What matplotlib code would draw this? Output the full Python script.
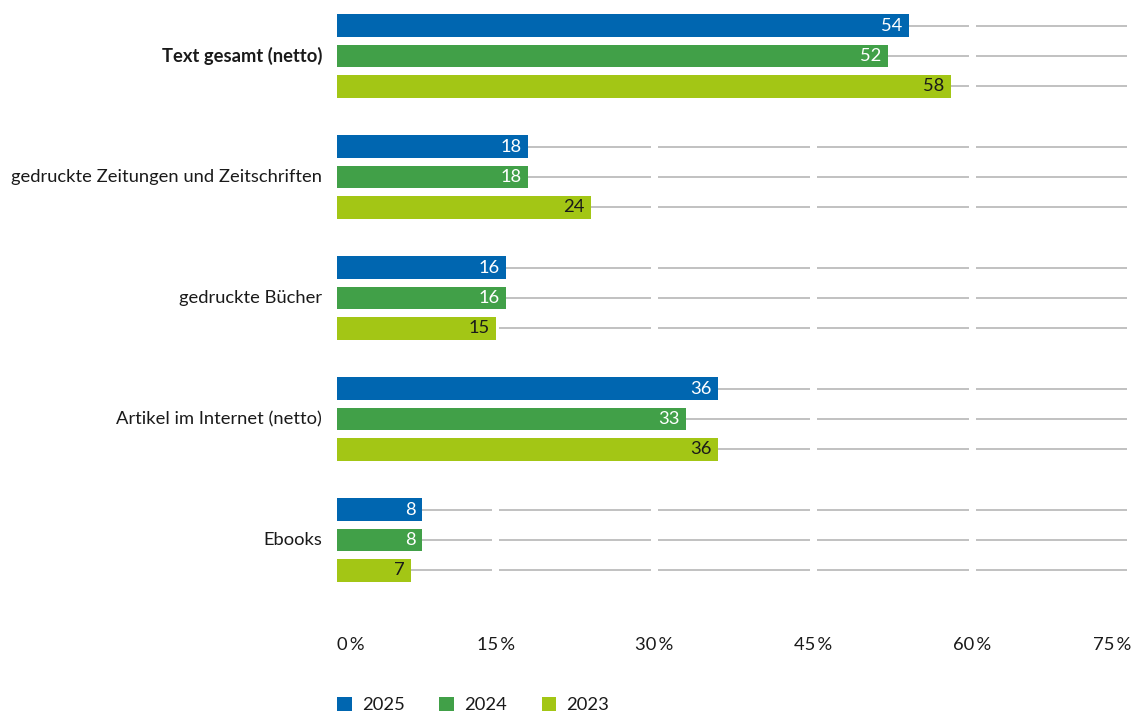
import matplotlib.pyplot as plt
from matplotlib.patches import Patch
import numpy as np

plt.rcParams['font.family'] = ['Lato', 'DejaVu Sans']

categories = ["Text gesamt (netto)", "gedruckte Zeitungen und Zeitschriften",
              "gedruckte Bücher", "Artikel im Internet (netto)", "Ebooks"]
years = ["2025", "2024", "2023"]
values_2025 = [54, 18, 16, 36, 8]
values_2024 = [52, 18, 16, 33, 8]
values_2023 = [58, 24, 15, 36, 7]
xticks = [0, 15, 30, 45, 60, 75]
xtick_labels = ["0\u2009%", "15\u2009%", "30\u2009%", "45\u2009%", "60\u2009%", "75\u2009%"]

colors = ["#0066b0", "#41a048", "#a3c615"]
text_colors = ["white", "white", "#1a1a1a"]
series = [values_2025, values_2024, values_2023]

W, H = 1138, 712
fs = 13.2
fig = plt.figure(figsize=(W / 100, H / 100), dpi=100)
# axes: x 0..75 -> px 337..1131, y px 0..620
ax = fig.add_axes([337 / W, 1 - 620 / H, (1131 - 337) / W, 620 / H])
ax.set_xlim(0, 75)
ax.set_ylim(-56 / 121 + 620 / 121, -56 / 121)

offsets = [-0.25, 0, 0.25]
bar_h = 0.19
y_base = np.arange(len(categories))

# broken grid lines at each bar centre
gap = 75 * 3.5 / (1131 - 337)
for off in offsets:
    for yc in y_base + off:
        for a, b in zip(xticks[:-1], xticks[1:]):
            ax.plot([a + (gap if a > 0 else 0), b - gap], [yc, yc],
                    color="#bcbcbc", lw=1.3, zorder=1, solid_capstyle="butt")

for vals, off, c, tc in zip(series, offsets, colors, text_colors):
    ys = y_base + off
    ax.barh(ys, vals, height=bar_h, color=c, zorder=2)
    for y, v in zip(ys, vals):
        ax.text(v - 0.6, y, str(v), ha="right", va="center", color=tc,
                fontsize=fs, zorder=3)

for spine in ax.spines.values():
    spine.set_visible(False)
ax.set_xticks([])
ax.set_yticks([])

for i, cat in enumerate(categories):
    ax.text(-1.4, i, cat, ha="right", va="center", fontsize=fs,
            color="#1a1a1a", fontweight="bold" if i == 0 else "normal")

trans = ax.get_xaxis_transform()
for i, (t, lab) in enumerate(zip(xticks, xtick_labels)):
    ha = "left" if i == 0 else ("right" if i == len(xticks) - 1 else "center")
    ax.text(t, -25 / 620, lab, ha=ha, va="center", fontsize=fs,
            color="#1a1a1a", transform=trans)

handles = [Patch(facecolor=c, edgecolor="none", label=y) for c, y in zip(colors, years)]
fig.legend(handles=handles, loc="lower left", bbox_to_anchor=(337 / W, -1 / H),
           ncol=3, frameon=False, fontsize=fs, handlelength=0.8, handleheight=0.8,
           handletextpad=0.55, columnspacing=1.9, borderpad=0, borderaxespad=0,
           labelcolor="#1a1a1a")

fig.savefig("out.png", dpi=100)
